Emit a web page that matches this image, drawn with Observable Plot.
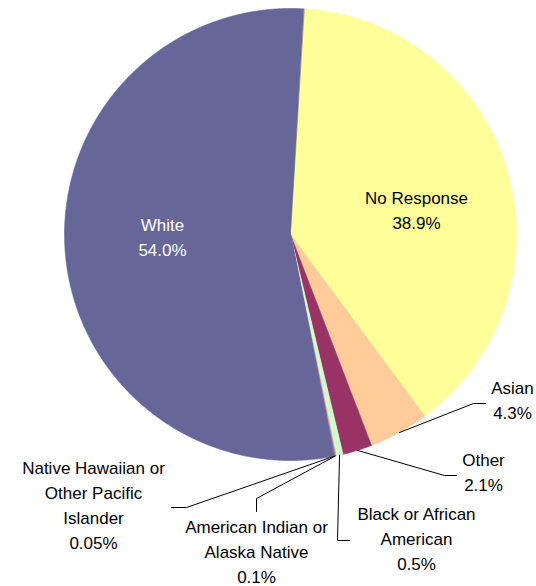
<!DOCTYPE html>
<html><head><meta charset="utf-8">
<script src="https://cdn.jsdelivr.net/npm/d3@7"></script>
<script src="https://cdn.jsdelivr.net/npm/@observablehq/plot@0.6"></script>
<style>body{margin:0;background:#fff}#chart svg{display:block}</style>
</head><body><div id="chart"></div>
<script>
// ---- data ----
const categories = ["No Response","Asian","Other","Black or African American","American Indian or Alaska Native","Native Hawaiian or Other Pacific Islander","White"];
const values = [38.9, 4.3, 2.1, 0.5, 0.1, 0.05, 54.0];
const valueLabels = ["38.9%","4.3%","2.1%","0.5%","0.1%","0.05%","54.0%"];
const labelLines = [["No Response"],["Asian"],["Other"],["Black or African","American"],["American Indian or","Alaska Native"],["Native Hawaiian or","Other Pacific","Islander"],["White"]];

// ---- styles / layout ----
const colors = ["#FFFF99","#FFCC99","#993366","#CCFFCC","#FF8080","#3366FF","#666699"];
const W = 536, H = 586;
const cx = 290, cy = 234, R = 226, startDeg = 3.4;
const labelPos = [[416,208],[512,398],[483,470],[416,536],[256,549],[93,502.5],[162,234.5]];
const leaderBends = [null, [[473,403],[485,403]], [[444,475],[456,475]], [[337,540],[349,540]], [[256,498],[256,511]], [[186,507],[171,507]], null];
const font = "'Liberation Sans', Arial, sans-serif";

const a0 = startDeg * Math.PI / 180;
const arcs = d3.pie().sort(null).value(d => d).startAngle(a0).endAngle(a0 + 2 * Math.PI)(values);
const px = a => cx + R * Math.sin(a), py = a => cy - R * Math.cos(a);

const slicePts = [];
arcs.forEach((arc, i) => {
  const name = categories[i];
  slicePts.push({name, x: cx, y: cy});
  const n = Math.max(2, Math.ceil((arc.endAngle - arc.startAngle) / (0.25 * Math.PI / 180)));
  for (let k = 0; k <= n; k++) {
    const a = arc.startAngle + (arc.endAngle - arc.startAngle) * k / n;
    slicePts.push({name, x: px(a), y: py(a)});
  }
});

const leaderPts = [];
arcs.forEach((arc, i) => {
  if (!leaderBends[i]) return;
  const m = (arc.startAngle + arc.endAngle) / 2;
  const name = categories[i];
  leaderPts.push({name, x: px(m), y: py(m)});
  leaderBends[i].forEach(([x, y]) => leaderPts.push({name, x, y}));
});

const labels = categories.map((c, i) => ({
  name: c, x: labelPos[i][0], y: labelPos[i][1],
  text: labelLines[i].concat([valueLabels[i]]).join("\n")
}));

const chart = Plot.plot({
  width: W, height: H, margin: 0,
  x: {domain: [0, W], range: [0, W], axis: null},
  y: {domain: [0, H], range: [0, H], axis: null},
  color: {domain: categories, range: colors},
  style: {background: "#fff"},
  marks: [
    Plot.line(slicePts, {x: "x", y: "y", z: "name", fill: "name", stroke: "name", strokeWidth: 0.6, curve: "linear-closed"}),
    Plot.line(leaderPts, {x: "x", y: "y", z: "name", stroke: "#000", strokeWidth: 1}),
    Plot.text(labels.filter(d => d.name !== "White"), {x: "x", y: "y", text: "text", fill: "#000", fontSize: 17, fontFamily: font, lineHeight: 25/17, lineAnchor: "middle"}),
    Plot.text(labels.filter(d => d.name === "White"), {x: "x", y: "y", text: "text", fill: "#fff", fontSize: 17, fontFamily: font, lineHeight: 25/17, lineAnchor: "middle"})
  ]
});
document.getElementById("chart").appendChild(chart);
</script>
</body></html>
